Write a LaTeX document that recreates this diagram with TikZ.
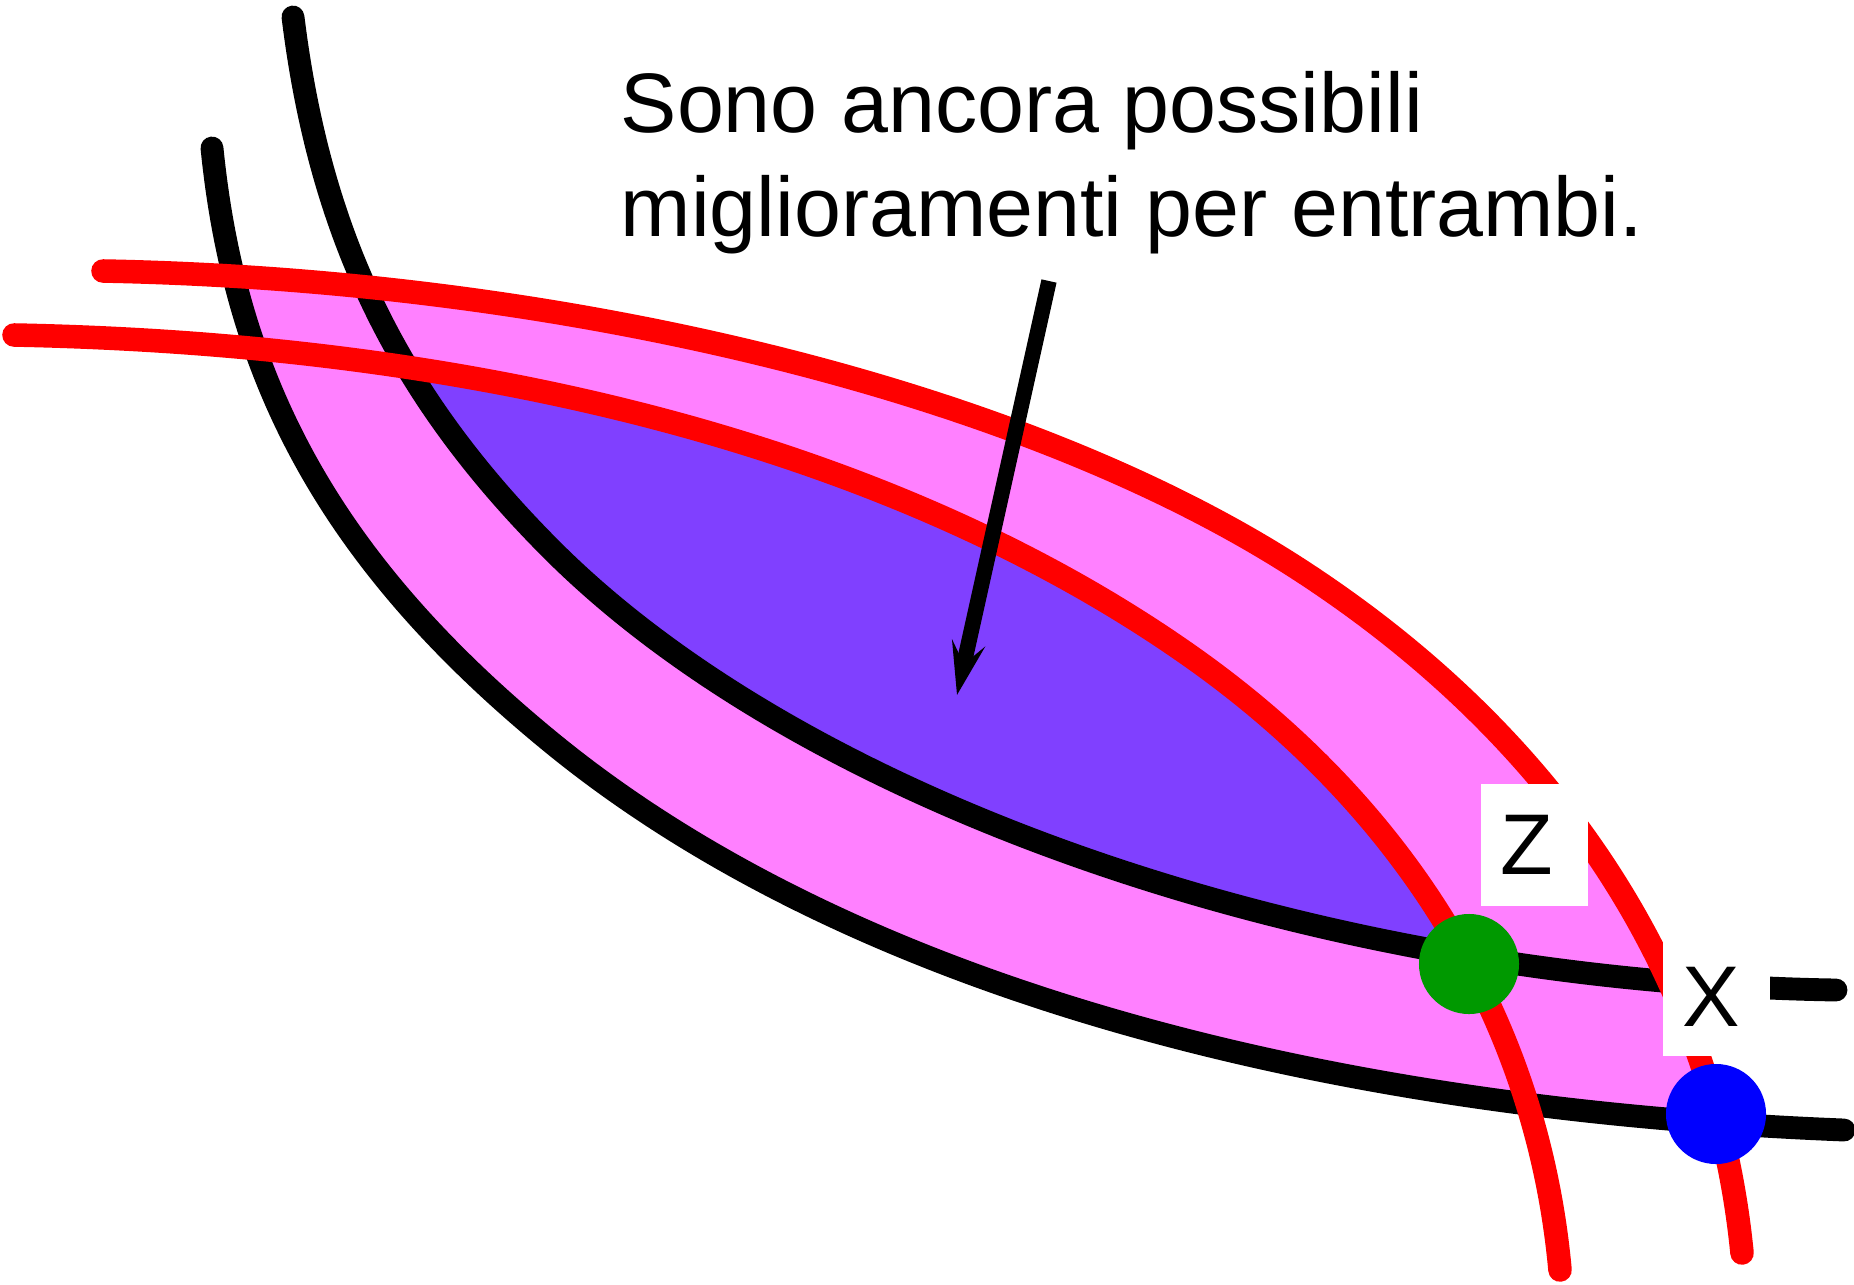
\documentclass[tikz,border=0pt]{standalone}
\usepackage{fontspec}
\setmainfont{Liberation Sans}
\usetikzlibrary{arrows.meta}
\definecolor{lenspink}{RGB}{255,128,255}
\definecolor{lenspurple}{RGB}{128,64,255}
\definecolor{dotgreen}{RGB}{0,153,0}
% the four curves (pixel coordinates)
\newcommand\pathBlackA{(212,148) .. controls (236,389) and (338,568) .. (552,743) .. controls (832,972) and (1284,1108) .. (1844,1130)}
\newcommand\pathBlackB{(293,17) .. controls (320,236) and (398,396) .. (552,550) .. controls (808,806) and (1322,982) .. (1836,990)}
\newcommand\pathRedC{(103,271) .. controls (574,280) and (1029,394) .. (1300,570) .. controls (1560,739) and (1715,978) .. (1742,1253)}
\newcommand\pathRedD{(14,335) .. controls (578,346) and (961,491) .. (1200,663) .. controls (1412,816) and (1538,1028) .. (1560,1270)}

\begin{document}
\begin{tikzpicture}[x=0.01cm, y=-0.01cm,
    blackline/.style={line width=6.5pt, line cap=round},
    redline/.style={red, line width=6.7pt, line cap=round},
    labelbox/.style={fill=white, inner xsep=0.2cm, inner ysep=0pt, text width=0.67cm, align=left, font=\fontsize{24.5}{29}\selectfont},
    pointdot/.style={circle, inner sep=0pt, minimum size=1cm},
    note/.style={anchor=base west, inner sep=0pt, font=\fontsize{24}{29}\selectfont}]
    \useasboundingbox (0,0) rectangle (1854,1284);
    % Region better than X for both
    \begin{scope}
        \clip \pathRedC -- (1742,1300) -- (-20,1300) -- (-20,271) -- cycle;
        \fill[lenspink] \pathBlackA -- (1870,1130) -- (1870,-20) -- (212,-20) -- cycle;
    \end{scope}
    % Region better than Z for both
    \begin{scope}
        \clip \pathRedD -- (1560,1300) -- (-20,1300) -- (-20,335) -- cycle;
        \fill[lenspurple] \pathBlackB -- (1870,990) -- (1870,-20) -- (293,-20) -- cycle;
    \end{scope}
    % Indifference curves
    \draw[blackline] \pathBlackA;
    \draw[blackline] \pathBlackB;
    \draw[redline] \pathRedC;
    \draw[redline] \pathRedD;
    % Text and arrow
    \node[note] (note1) at (620,132) {Sono ancora possibili};
    \node[note] (note2) at (620,236.5) {miglioramenti per entrambi.};
    \coordinate (tail) at (1049,281);
    \coordinate (tip) at (957,695);
    \draw[line width=4.4pt, -{Stealth[length=15pt, width=9.5pt, inset=6pt]}] (tail) -- (tip);
    % Labels
    \node[labelbox, minimum height=1.22cm] (zlab) at (1534.5,845) {Z};
    \node[labelbox, minimum height=1.18cm] (xlab) at (1716.5,997) {X};
    % Allocations
    \node[pointdot, fill=dotgreen] (z) at (1469,964) {};
    \node[pointdot, fill=blue] (x) at (1716,1114) {};
\end{tikzpicture}
\end{document}
